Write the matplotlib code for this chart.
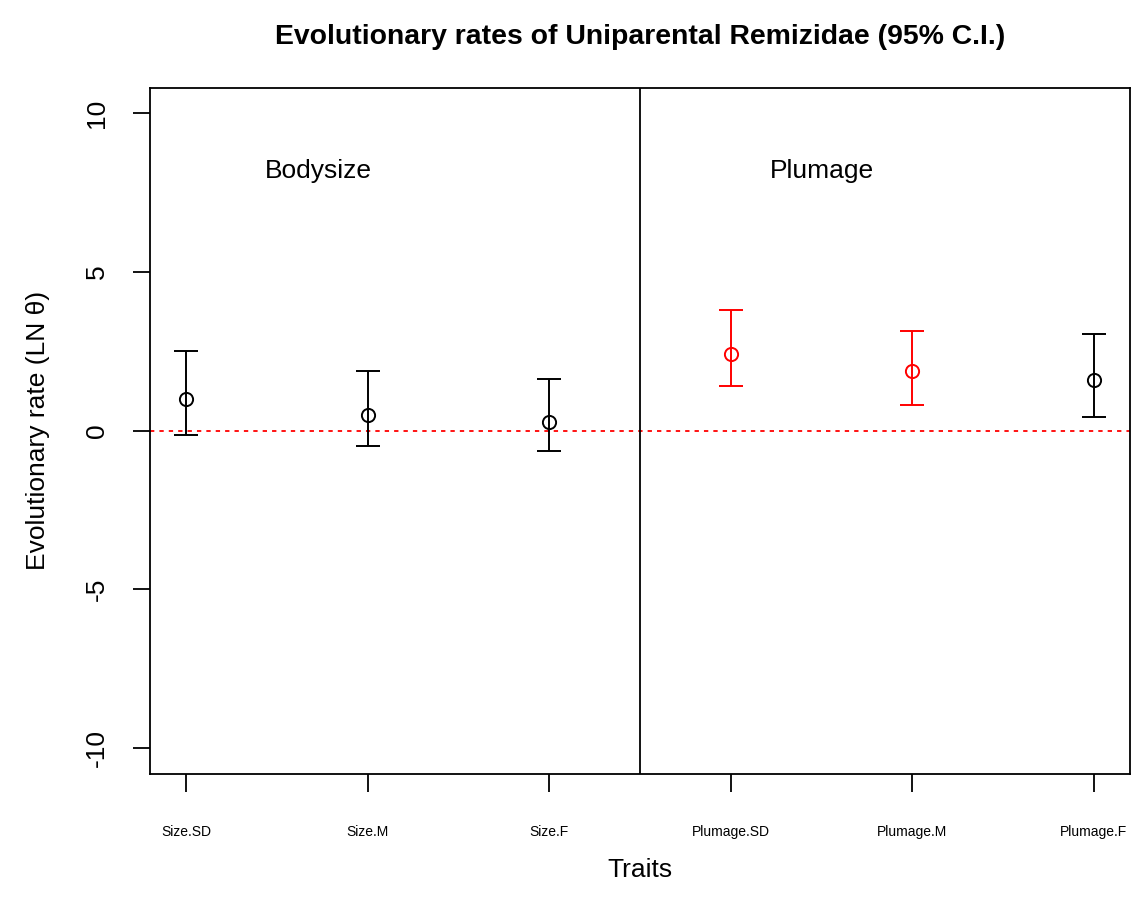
import matplotlib
matplotlib.use("Agg")
import matplotlib.pyplot as plt

traits = ["Size.SD", "Size.M", "Size.F", "Plumage.SD", "Plumage.M", "Plumage.F"]
estimate = [0.99, 0.50, 0.28, 2.41, 1.88, 1.59]
lower_ci = [-0.13, -0.48, -0.64, 1.40, 0.81, 0.43]
upper_ci = [2.51, 1.88, 1.64, 3.80, 3.15, 3.06]
colours = ["black", "black", "black", "red", "red", "black"]
groups = ["Bodysize", "Plumage"]
group_label_x = [1.73, 4.5]
group_label_y = 8.2
y_ticks = [-10, -5, 0, 5, 10]

plt.rcParams["font.family"] = ["Liberation Sans", "DejaVu Sans"]

fig = plt.figure(figsize=(11.33, 9.09), dpi=100)
W, H = 1133, 909
ax = fig.add_axes([150 / W, 1 - 773.5 / H, (1130 - 150) / W, (773.5 - 88) / H])

x = list(range(1, len(traits) + 1))
for xi, est, lo, hi, c in zip(x, estimate, lower_ci, upper_ci, colours):
    ax.errorbar([xi], [est], yerr=[[est - lo], [hi - est]], fmt="o", color=c,
                mfc="none", mec=c, ms=9.5, mew=1.4, elinewidth=1.4,
                capsize=8.8, capthick=1.4, zorder=3)

ax.axhline(0, color="red", lw=1.3, dashes=(2.4, 2.8), zorder=2)
ax.axvline(3.5, color="black", lw=1.3, zorder=2)

for gx, name in zip(group_label_x, groups):
    ax.text(gx, group_label_y, name, ha="center", va="center", fontsize=19)

ax.set_xlim(0.8, 6.2)
ax.set_ylim(-10.8, 10.8)
ax.set_xticks(x)
ax.set_xticklabels(traits, fontsize=10)
ax.set_yticks(y_ticks)
ax.set_yticklabels([str(v) for v in y_ticks], fontsize=19, rotation=90, va="center")
ax.tick_params(axis="x", length=13, width=1.3, pad=24, direction="out")
ax.tick_params(axis="y", length=12.5, width=1.3, pad=17, direction="out")
for s in ax.spines.values():
    s.set_linewidth(1.3)

ax.set_xlabel("Traits", fontsize=19, labelpad=14)
ax.set_ylabel("Evolutionary rate (LN θ)", fontsize=19, labelpad=25)
ax.set_title("Evolutionary rates of Uniparental Remizidae (95% C.I.)",
             fontsize=20.4, fontweight="bold", pad=32)

fig.savefig("out.png", dpi=100)
